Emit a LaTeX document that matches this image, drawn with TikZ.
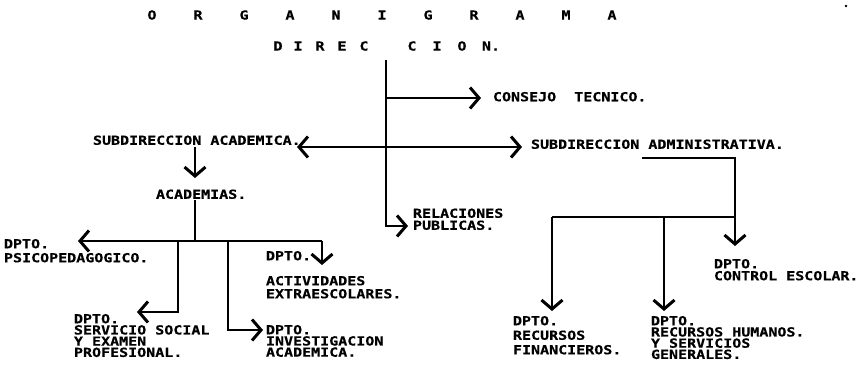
\documentclass[tikz,border=0pt]{standalone}
\usepackage{fontspec}
\usetikzlibrary{arrows.meta}
\newfontfamily\typewr[FakeStretch=1.2,BoldFeatures={FakeBold=0.5}]{DejaVu Sans Mono}
\newcommand{\orgfont}[1]{\typewr\bfseries\fontsize{12.5}{#1}\selectfont}

\begin{document}
\begin{tikzpicture}[x=1pt,y=-1pt,line width=2pt,
  every node/.style={inner sep=0pt,font=\orgfont{13}},
  dept/.style={anchor=north west,align=left,font=\orgfont{#1}},
  dept/.default=13,
  arrowed/.style={-{Straight Barb[length=9pt,width=21pt,line width=3pt]}},
  bothways/.style={{Straight Barb[length=9pt,width=21pt,line width=3pt]}-{Straight Barb[length=9pt,width=21pt,line width=3pt]}}]
  \useasboundingbox (0,0) rectangle (857,370);
  % titulo
  \foreach \ch [count=\i from 0] in {O,R,G,A,N,I,G,R,A,M,A}
    \node (title\i) at ({152+46*\i},15) {\ch};
  \foreach \ch/\xx [count=\i] in {D/278,I/298,R/320,E/342,C/364,C/412,I/437,O/462,N./491}
    \node (dir\i) at (\xx,46) {\ch};
  \fill (846,6) circle[radius=1.3pt];
  % unidades
  \node[dept] (consejo) at (492,91) {CONSEJO~~TECNICO.};
  \node[dept] (sacad) at (92,134.5) {SUBDIRECCION ACADEMICA.};
  \node[dept] (sadmin) at (530,138.5) {SUBDIRECCION ADMINISTRATIVA.};
  \node[dept] (academias) at (155,188.5) {ACADEMIAS.};
  \node[dept=12] (relaciones) at (412,207.5) {RELACIONES\\PUBLICAS.};
  \node[dept=14] (psico) at (3,238) {DPTO.\\PSICOPEDAGOGICO.};
  \node[dept=13] (activ) at (265,250) {DPTO.\\[12pt]ACTIVIDADES\\EXTRAESCOLARES.};
  \node[dept=11.2] (servicio) at (73,313) {DPTO.\\SERVICIO SOCIAL\\Y EXAMEN\\PROFESIONAL.};
  \node[dept=11.2] (investig) at (265,324) {DPTO.\\INVESTIGACION\\ACADEMICA.};
  \node[dept=12] (control) at (713,258) {DPTO.\\CONTROL ESCOLAR.};
  \node[dept=14.5] (financ) at (512,315) {DPTO.\\RECURSOS\\FINANCIEROS.};
  \node[dept=11.2] (humanos) at (650,315) {DPTO.\\RECURSOS HUMANOS.\\Y SERVICIOS\\GENERALES.};
  % puntos de union
  \coordinate (dtop) at (386,60);
  \coordinate (cons) at (386,98);   \coordinate (constip) at (481,98);
  \coordinate (subL) at (297,147);  \coordinate (subR) at (522,147);
  \coordinate (relc) at (386,226);  \coordinate (reltip) at (408,226);
  \coordinate (sa) at (195,147);    \coordinate (satip) at (195,178);
  \coordinate (ac) at (195,200);    \coordinate (acj) at (195,241);
  \coordinate (psicotip) at (78,241);
  \coordinate (actj) at (322,241);  \coordinate (acttip) at (322,265);
  \coordinate (servj) at (178,241); \coordinate (servtip) at (137,312);
  \coordinate (invj) at (228,241);  \coordinate (invtip) at (263,330);
  \coordinate (ad1) at (642,158);   \coordinate (ad2) at (735,158);
  \coordinate (ctrltip) at (735,246);
  \coordinate (adj) at (735,217);
  \coordinate (finj) at (552,217);  \coordinate (fintip) at (552,311);
  \coordinate (humj) at (664,217);  \coordinate (humtip) at (664,311);
  % lineas
  \draw[arrowed] (dtop) -- (relc) -- (reltip);
  \draw[arrowed] (cons) -- (constip);
  \draw[bothways] (subL) -- (subR);
  \draw[arrowed] (sa) -- (satip);
  \draw (ac) -- (acj);
  \draw[arrowed] (actj) -- (psicotip);
  \draw[arrowed] (actj) -- (acttip);
  \draw[arrowed] (servj) |- (servtip);
  \draw[arrowed] (invj) |- (invtip);
  \draw[arrowed] (ad1) -- (ad2) -- (ctrltip);
  \draw (adj) -- (finj);
  \draw[arrowed] (finj) -- (fintip);
  \draw[arrowed] (humj) -- (humtip);
\end{tikzpicture}
\end{document}
